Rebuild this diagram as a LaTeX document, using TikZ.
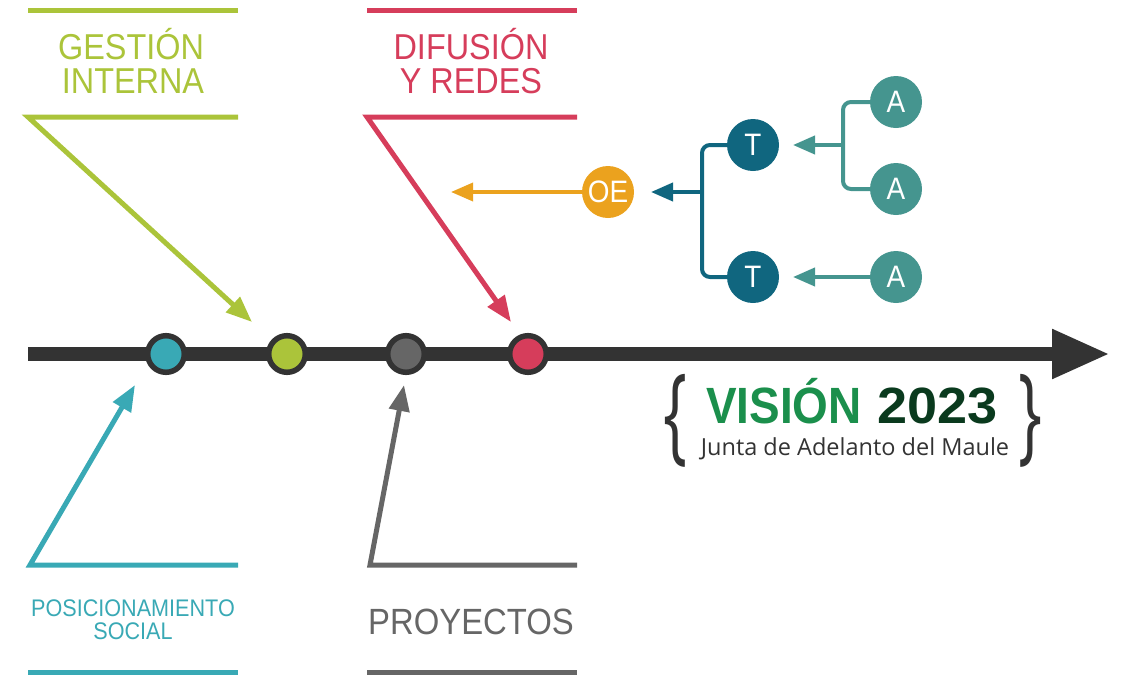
\documentclass[tikz,border=0pt]{standalone}
\usepackage{fontspec}
\usetikzlibrary{arrows.meta}
\setmainfont{Liberation Sans}
\newfontfamily\labfont[FakeStretch=0.9]{Liberation Sans}
\newfontfamily\visfont{Liberation Sans}
\newfontfamily\jamfont{Open Sans}
\definecolor{cgreen}{HTML}{ABC43A}
\definecolor{cred}{HTML}{D63D5B}
\definecolor{ccyan}{HTML}{39A9B5}
\definecolor{cgrey}{HTML}{666666}
\definecolor{cdark}{HTML}{333333}
\definecolor{corange}{HTML}{EBA21E}
\definecolor{ctdark}{HTML}{10667F}
\definecolor{cteal}{HTML}{45958F}
\definecolor{cvis}{HTML}{1B8F4C}
\definecolor{cyear}{HTML}{0A3A1E}
\begin{document}
\begin{tikzpicture}[x=1pt,y=-1pt,
  lab/.style={inner sep=0pt, anchor=base, font=\labfont\fontsize{36}{36}\selectfont},
  rule/.style={line width=5pt, line join=miter},
  ptr/.style={line width=5pt, line join=miter, -{Triangle[length=26pt,width=20pt]}},
  dot/.style={circle, minimum size=36.6pt, inner sep=0pt, line width=5.5pt, draw=cdark},
  bub/.style={circle, minimum size=52pt, inner sep=0pt, text=white, font=\labfont\fontsize{31}{31}\selectfont},
  tree/.style={line width=4pt, rounded corners=8pt},
  treearr/.style={line width=4pt, -{Triangle[length=22pt,width=18pt]}}
]
\useasboundingbox (0,0) rectangle (1128,675);

% axis
\coordinate (axs) at (28,354);
\coordinate (axe) at (1110,354);
\draw[cdark, line width=14pt, -{Triangle[length=58pt,width=46pt]}] (axs) -- (axe);

% dots
\node[dot, fill=ccyan] (d1) at (166,354) {};
\node[dot, fill=cgreen] (d2) at (287,354) {};
\node[dot, fill=cgrey] (d3) at (406,354) {};
\node[dot, fill=cred] (d4) at (528,354) {};

% GESTION INTERNA
\coordinate (g1) at (28,10); \coordinate (g2) at (238,10);
\coordinate (g3) at (238,117); \coordinate (g4) at (28,117);
\coordinate (g5) at (252,322);
\draw[rule, cgreen] (g1) -- (g2);
\draw[ptr, cgreen] (g3) -- (g4) -- (g5);
\node[lab, text=cgreen] (gt1) at (131,59) {GESTIÓN};
\node[lab, text=cgreen] (gt2) at (133,93) {INTERNA};

% DIFUSION Y REDES
\coordinate (r1) at (367,10); \coordinate (r2) at (577,10);
\coordinate (r3) at (577,117); \coordinate (r4) at (367,117);
\coordinate (r5) at (511,322);
\draw[rule, cred] (r1) -- (r2);
\draw[ptr, cred] (r3) -- (r4) -- (r5);
\node[lab, text=cred] (rt1) at (471,59) {DIFUSIÓN};
\node[lab, text=cred] (rt2) at (471,93) {Y REDES};

% POSICIONAMIENTO SOCIAL
\coordinate (c1) at (238,565); \coordinate (c2) at (30,565);
\coordinate (c3) at (135,385);
\coordinate (c4) at (28,672); \coordinate (c5) at (238,672);
\draw[ptr, ccyan] (c1) -- (c2) -- (c3);
\draw[rule, ccyan] (c4) -- (c5);
\node[lab, text=ccyan, font=\labfont\fontsize{24}{24}\selectfont] (ct1) at (133,616) {POSICIONAMIENTO};
\node[lab, text=ccyan, font=\labfont\fontsize{24}{24}\selectfont] (ct2) at (133,639) {SOCIAL};

% PROYECTOS
\coordinate (p1) at (577,565); \coordinate (p2) at (370,565);
\coordinate (p3) at (404,385);
\coordinate (p4) at (367,672); \coordinate (p5) at (577,672);
\draw[ptr, cgrey] (p1) -- (p2) -- (p3);
\draw[rule, cgrey] (p4) -- (p5);
\node[lab, text=cgrey, font=\labfont\fontsize{36.5}{36.5}\selectfont] (pt1) at (471,634) {PROYECTOS};

% tree
\node[bub, fill=corange] (oe) at (608,192) {OE};
\node[bub, fill=ctdark] (t1) at (753,145) {T};
\node[bub, fill=ctdark] (t2) at (753,277) {T};
\node[bub, fill=cteal] (a1) at (896,102) {A};
\node[bub, fill=cteal] (a2) at (896,189) {A};
\node[bub, fill=cteal] (a3) at (896,277) {A};
\coordinate (oetip) at (451,192);
\draw[line width=3.5pt, corange, -{Triangle[length=22pt,width=18pt]}] (oe.west) -- (oetip);
\coordinate (tb) at (702,192);
\coordinate (ttip) at (651,192);
\draw[tree, ctdark] (t1.west) -| (tb) |- (t2.west);
\draw[treearr, ctdark] (tb) -- (ttip);
\coordinate (ab) at (843,145);
\coordinate (atip) at (793,145);
\draw[tree, cteal] (a1.west) -| (ab) |- (a2.west);
\draw[treearr, cteal] (ab) -- (atip);
\coordinate (a3tip) at (793,277);
\draw[treearr, cteal] (a3.west) -- (a3tip);

% VISION 2023
\node[inner sep=0pt, anchor=base west, text=cvis, font=\visfont\bfseries\fontsize{51}{51}\selectfont] (vis) at (706,423) {\scalebox{0.9}[1]{VISIÓN}};
\node[inner sep=0pt, anchor=base west, text=cyear, font=\visfont\bfseries\fontsize{51}{51}\selectfont] (yr) at (877,423) {\scalebox{1.06}[1]{2023}};
\node[inner sep=0pt, anchor=base, text=cdark, font=\jamfont\fontsize{23.5}{23.5}\selectfont] (jam) at (855,455) {Junta de Adelanto del Maule};
\node[inner sep=0pt, text=cdark, font=\jamfont] (lb) at (675,421) {\resizebox*{24pt}{93pt}{\{}};
\node[inner sep=0pt, text=cdark, font=\jamfont] (rb) at (1030,421) {\resizebox*{24pt}{93pt}{\}}};
\end{tikzpicture}
\end{document}
